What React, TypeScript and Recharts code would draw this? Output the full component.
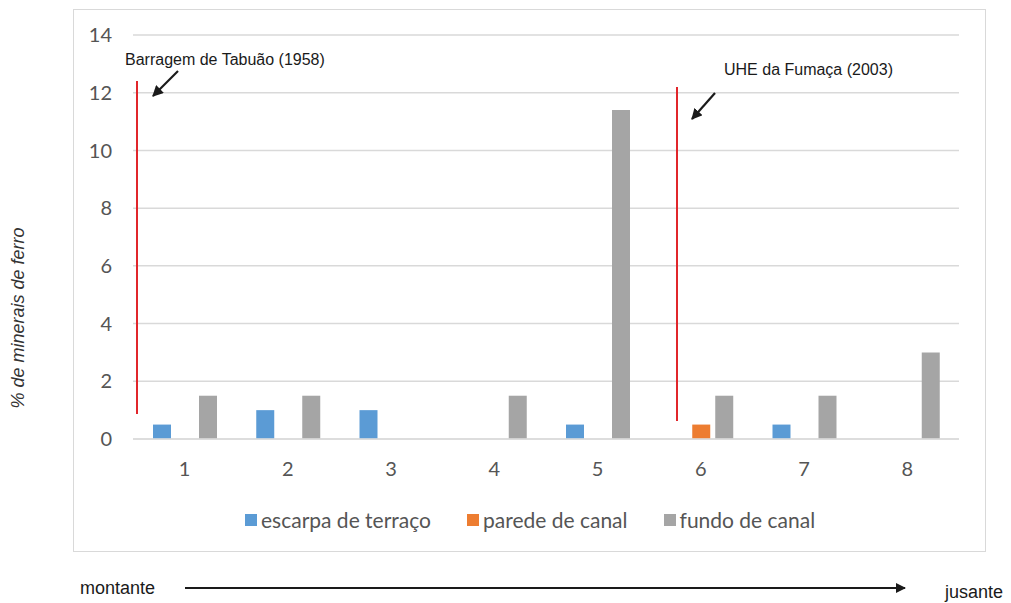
import { BarChart, Bar, XAxis, YAxis, CartesianGrid, ReferenceLine } from "recharts";

const SITES = ["1", "2", "3", "4", "5", "6", "7", "8"];
const ESCARPA = [0.5, 1, 1, 0, 0.5, 0, 0.5, 0];
const PAREDE = [0, 0, 0, 0, 0, 0.5, 0, 0];
const FUNDO = [1.5, 1.5, 0, 1.5, 11.4, 1.5, 1.5, 3];
const Y_TICKS = [0, 2, 4, 6, 8, 10, 12, 14];

const SERIES = [
  { key: "escarpa", name: "escarpa de terraço", color: "#5b9bd5" },
  { key: "parede", name: "parede de canal", color: "#ed7d31" },
  { key: "fundo", name: "fundo de canal", color: "#a5a5a5" },
];

const data = SITES.map((site, i) => ({
  site,
  escarpa: ESCARPA[i],
  parede: PAREDE[i],
  fundo: FUNDO[i],
}));

const tickStyle = { fill: "#555", fontSize: 20, fontFamily: "Lato" };
const RED = "#e1262b";

export default function App() {
  return (
    <div style={{ position: "absolute", left: 0, top: 0, width: 1011, height: 603, background: "#fff" }}>
      <div
        style={{
          position: "absolute",
          left: 73,
          top: 9,
          width: 913,
          height: 543,
          border: "1.5px solid #d9d9d9",
          boxSizing: "border-box",
        }}
      />
      <BarChart
        width={1011}
        height={603}
        data={data}
        margin={{ top: 35, right: 52, left: 93, bottom: 134 }}
        barSize={18}
        barGap={5}
        style={{ position: "absolute", left: 0, top: 0 }}
      >
        <CartesianGrid vertical={false} stroke="#d9d9d9" strokeWidth={1.5} />
        <XAxis
          dataKey="site"
          axisLine={false}
          tickLine={false}
          tickSize={0}
          tickMargin={23}
          height={30}
          tick={tickStyle}
        />
        <YAxis
          domain={[0, 14]}
          ticks={Y_TICKS}
          axisLine={false}
          tickLine={false}
          tickSize={0}
          tickMargin={21}
          width={40}
          tick={tickStyle}
        />
        {SERIES.map((s) => (
          <Bar key={s.key} dataKey={s.key} name={s.name} fill={s.color} isAnimationActive={false} />
        ))}
        <ReferenceLine y={0} stroke="#dcdcdc" strokeWidth={2} strokeOpacity={0.8} />
      </BarChart>

      <svg
        width={1011}
        height={603}
        style={{ position: "absolute", left: 0, top: 0, pointerEvents: "none" }}
      >
        <defs>
          <marker id="ah" viewBox="0 0 10 10" refX="9" refY="5" markerWidth="5" markerHeight="5" orient="auto">
            <path d="M0,0 L10,5 L0,10 z" fill="#1a1a1a" />
          </marker>
          <marker id="ah2" viewBox="0 0 10 10" refX="9" refY="5" markerWidth="9" markerHeight="5" orient="auto">
            <path d="M0,0 L10,5 L0,10 z" fill="#1a1a1a" />
          </marker>
        </defs>
        <line x1={137} y1={81} x2={137} y2={414} stroke={RED} strokeWidth={2} />
        <line x1={677} y1={87} x2={677} y2={421} stroke={RED} strokeWidth={2} />
        <text x={125} y={65} fontFamily="Liberation Sans, Arial" fontSize={16} fill="#1a1a1a">
          Barragem de Tabuão (1958)
        </text>
        <text x={724} y={75} fontFamily="Liberation Sans, Arial" fontSize={16} fill="#1a1a1a">
          UHE da Fumaça (2003)
        </text>
        <line x1={178} y1={71} x2={153} y2={96} stroke="#1a1a1a" strokeWidth={2.2} markerEnd="url(#ah)" />
        <line x1={715} y1={93} x2={692} y2={119} stroke="#1a1a1a" strokeWidth={2.2} markerEnd="url(#ah)" />
        <text
          x={24}
          y={318}
          transform="rotate(-90 24 318)"
          textAnchor="middle"
          fontFamily="Liberation Sans, Arial"
          fontStyle="italic"
          fontSize={18}
          fill="#333"
        >
          % de minerais de ferro
        </text>
        <text x={80} y={594} fontFamily="Liberation Sans, Arial" fontSize={18} fill="#1a1a1a">
          montante
        </text>
        <text x={945} y={598} fontFamily="Liberation Sans, Arial" fontSize={18} fill="#1a1a1a">
          jusante
        </text>
        <line x1={185} y1={588} x2={905} y2={588} stroke="#1a1a1a" strokeWidth={2} markerEnd="url(#ah2)" />
      </svg>

      <div
        style={{
          position: "absolute",
          left: 245,
          top: 507,
          display: "flex",
          gap: 36,
          fontFamily: "Lato",
          fontSize: 21,
          color: "#555",
          lineHeight: "26px",
        }}
      >
        {SERIES.map((s) => (
          <div key={s.key} style={{ display: "flex", alignItems: "center", gap: 4 }}>
            <span style={{ width: 12, height: 12, background: s.color, display: "inline-block" }} />
            <span>{s.name}</span>
          </div>
        ))}
      </div>
    </div>
  );
}
